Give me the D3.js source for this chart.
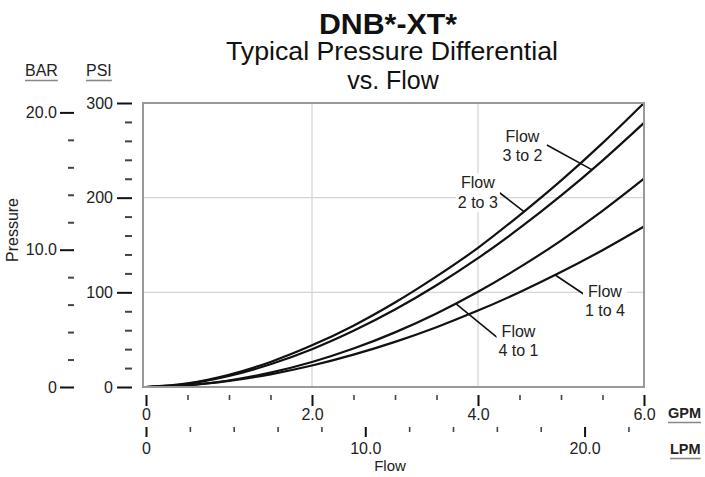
<!DOCTYPE html>
<html>
<head>
<meta charset="utf-8">
<script src="https://cdn.jsdelivr.net/npm/d3@7"></script>
<style>
  html, body { margin: 0; padding: 0; background: #fff; }
  svg { display: block; font-family: "Liberation Sans", Arial, sans-serif; }
</style>
</head>
<body>
<svg id="chart" width="705" height="477"></svg>
<script>
// ---------- data ----------
const flowGPM   = [0, 0.5, 1, 1.5, 2, 2.5, 3, 3.5, 4, 4.5, 5, 5.5, 6];
const flow2to3  = [0, 3.9, 13.0, 26.5, 44.0, 64.8, 89.2, 116.8, 147.0, 181.4, 218.0, 257.6, 300.0];
const flow3to2  = [0, 3.4, 11.7, 24.0, 39.9, 59.3, 81.8, 107.5, 136.1, 167.7, 202.1, 239.2, 279.0];
const flow4to1  = [0, 1.8, 6.9, 15.2, 26.4, 40.6, 57.7, 77.7, 100.6, 126.3, 154.7, 186.0, 220.0];
const flow1to4  = [0, 1.8, 6.4, 13.4, 22.7, 34.2, 47.7, 63.2, 80.7, 100.1, 121.4, 144.5, 169.5];

const gpmMajor = [0, 2, 4, 6];
const gpmMajorLabels = ["0", "2.0", "4.0", "6.0"];
const gpmMinor = [0.5, 1, 1.5, 2.5, 3, 3.5, 4.5, 5, 5.5];
const lpmMajor = [0, 10, 20];
const lpmMajorLabels = ["0", "10.0", "20.0"];
const lpmMinor = [2, 4, 6, 8, 12, 14, 16, 18, 22];
const psiMajor = [0, 100, 200, 300];
const psiMajorLabels = ["0", "100", "200", "300"];
const psiMinor = [20, 40, 60, 80, 120, 140, 160, 180, 220, 240, 260, 280];
const barMajor = [0, 10, 20];
const barMajorLabels = ["0", "10.0", "20.0"];
const barMinor = [2, 4, 6, 8, 12, 14, 16, 18];
const gridX = [2, 4];
const gridY = [100, 200];

const titleLines = ["DNB*-XT*", "Typical Pressure Differential", "vs. Flow"];

// annotations: label lines, first-line anchor (gpm, psi), leader from/to (gpm, psi)
const annotations = [
  { lines: ["Flow", "3 to 2"], at: [4.536, 259.1], from: [4.83, 255.6], to: [5.37, 229.6] },
  { lines: ["Flow", "2 to 3"], at: [3.998, 209.9], from: [4.26, 205.2], to: [4.55, 185.5] },
  { lines: ["Flow", "4 to 1"], at: [4.488, 53.1], from: [4.245, 51.4], to: [3.74, 87.5] },
  { lines: ["Flow", "1 to 4"], at: [5.53, 95.4], from: [5.29, 97.2], to: [4.93, 118.3] }
];

const LPM_PER_GPM = 3.785;
const BAR_PER_PSI = 1 / 14.5038;

// ---------- scales ----------
const x = d3.scaleLinear().domain([0, 6]).range([146, 644]);
const xL = d3.scaleLinear().domain([0, 6 * LPM_PER_GPM]).range([146, 644]);
const y = d3.scaleLinear().domain([0, 300]).range([387, 103]);
const yB = d3.scaleLinear().domain([0, 300 * BAR_PER_PSI]).range([387, 103]);

const svg = d3.select("#chart");

// ---------- grid ----------
const plotL = 143, plotR = 644, plotT = 103, plotB = 387;
svg.append("g").selectAll("line").data(gridX).join("line")
  .attr("x1", d => x(d)).attr("x2", d => x(d))
  .attr("y1", plotT).attr("y2", plotB)
  .attr("stroke", "#d4d4d4").attr("stroke-width", 1.2);
svg.append("g").selectAll("line").data(gridY).join("line")
  .attr("x1", plotL).attr("x2", plotR)
  .attr("y1", d => y(d)).attr("y2", d => y(d))
  .attr("stroke", "#d4d4d4").attr("stroke-width", 1.2);

// ---------- curves ----------
const line = d3.line()
  .x(d => x(d[0])).y(d => y(d[1]))
  .curve(d3.curveMonotoneX);
const series = [flow2to3, flow3to2, flow4to1, flow1to4];
svg.append("g").selectAll("path").data(series).join("path")
  .attr("d", s => line(flowGPM.map((g, i) => [g, s[i]])))
  .attr("fill", "none").attr("stroke", "#111").attr("stroke-width", 2.2);

// ---------- frame ----------
svg.append("rect")
  .attr("x", plotL).attr("y", plotT)
  .attr("width", plotR - plotL).attr("height", plotB - plotT)
  .attr("fill", "none").attr("stroke", "#999").attr("stroke-width", 2);

// ---------- annotations ----------
const ann = svg.append("g");
annotations.forEach(a => {
  ann.append("line")
    .attr("x1", x(a.from[0])).attr("y1", y(a.from[1]))
    .attr("x2", x(a.to[0])).attr("y2", y(a.to[1]))
    .attr("stroke", "#111").attr("stroke-width", 1.6);
  const cx = x(a.at[0]), by = y(a.at[1]);
  ann.append("rect")
    .attr("x", cx - 22).attr("y", by - 15)
    .attr("width", 44).attr("height", 39)
    .attr("fill", "#fff");
  a.lines.forEach((t, i) => {
    ann.append("text")
      .attr("x", cx).attr("y", by + i * 19.5)
      .attr("text-anchor", "middle")
      .attr("font-size", 16).attr("fill", "#222")
      .text(t);
  });
});

// ---------- axes ----------
function styleAxis(g, col, w) {
  g.select(".domain").remove();
  g.selectAll(".tick line").attr("stroke", col).attr("stroke-width", w);
  g.selectAll(".tick text").attr("fill", "#222").attr("font-size", 16)
    .attr("font-family", "Liberation Sans, Arial, sans-serif");
}

// PSI
const psiMaj = svg.append("g").attr("transform", "translate(132,0)")
  .call(d3.axisLeft(y).tickValues(psiMajor).tickSize(15).tickPadding(4)
    .tickFormat((d, i) => psiMajorLabels[i]));
styleAxis(psiMaj, "#111", 2);
const psiMin = svg.append("g").attr("transform", "translate(132,0)")
  .call(d3.axisLeft(y).tickValues(psiMinor).tickSize(7).tickFormat(""));
styleAxis(psiMin, "#444", 2);

// BAR
const barMaj = svg.append("g").attr("transform", "translate(74,0)")
  .call(d3.axisLeft(yB).tickValues(barMajor).tickSize(14).tickPadding(3)
    .tickFormat((d, i) => barMajorLabels[i]));
styleAxis(barMaj, "#111", 2);
const barMin = svg.append("g").attr("transform", "translate(74,0)")
  .call(d3.axisLeft(yB).tickValues(barMinor).tickSize(6).tickFormat(""));
styleAxis(barMin, "#444", 2);

// GPM
const gpmMaj = svg.append("g").attr("transform", "translate(0,395)")
  .call(d3.axisBottom(x).tickValues(gpmMajor).tickSize(11).tickPadding(3)
    .tickFormat((d, i) => gpmMajorLabels[i]));
styleAxis(gpmMaj, "#111", 2);
const gpmMin = svg.append("g").attr("transform", "translate(0,395)")
  .call(d3.axisBottom(x).tickValues(gpmMinor).tickSize(5).tickFormat(""));
styleAxis(gpmMin, "#444", 1.6);

// LPM
const lpmMaj = svg.append("g").attr("transform", "translate(0,427)")
  .call(d3.axisBottom(xL).tickValues(lpmMajor).tickSize(10).tickPadding(6)
    .tickFormat((d, i) => lpmMajorLabels[i]));
styleAxis(lpmMaj, "#111", 2);
const lpmMin = svg.append("g").attr("transform", "translate(0,427)")
  .call(d3.axisBottom(xL).tickValues(lpmMinor).tickSize(5).tickFormat(""));
styleAxis(lpmMin, "#444", 1.6);

// ---------- unit labels ----------
function unitLabel(txt, x0, yb, size, weight) {
  const t = svg.append("text").attr("x", x0).attr("y", yb)
    .attr("font-size", size)
    .attr("font-weight", weight).attr("fill", "#222").text(txt);
  const bb = t.node().getBBox();
  svg.append("line").attr("x1", bb.x).attr("x2", bb.x + bb.width)
    .attr("y1", yb + 4.5).attr("y2", yb + 4.5)
    .attr("stroke", "#888").attr("stroke-width", 1.6);
}
unitLabel("BAR", 25, 76, 16, "normal");
unitLabel("PSI", 86, 76, 16, "normal");
unitLabel("GPM", 668, 418, 14.5, "bold");
unitLabel("LPM", 670, 454, 14.5, "bold");

// axis titles
svg.append("text").attr("transform", "translate(18,230) rotate(-90)")
  .attr("text-anchor", "middle").attr("font-size", 16).attr("fill", "#222")
  .text("Pressure");
svg.append("text").attr("x", 390).attr("y", 471)
  .attr("text-anchor", "middle").attr("font-size", 15).attr("fill", "#222")
  .text("Flow");

// ---------- title ----------
svg.append("text").attr("x", 388).attr("y", 34).attr("text-anchor", "middle")
  .attr("font-size", 29).attr("font-weight", "bold").attr("fill", "#111")
  .attr("textLength", 138).attr("lengthAdjust", "spacingAndGlyphs")
  .text(titleLines[0]);
svg.append("text").attr("x", 392).attr("y", 60).attr("text-anchor", "middle")
  .attr("font-size", 25).attr("fill", "#111")
  .attr("textLength", 332).attr("lengthAdjust", "spacingAndGlyphs")
  .text(titleLines[1]);
svg.append("text").attr("x", 393).attr("y", 89).attr("text-anchor", "middle")
  .attr("font-size", 25).attr("fill", "#111").text(titleLines[2]);
</script>
</body>
</html>
